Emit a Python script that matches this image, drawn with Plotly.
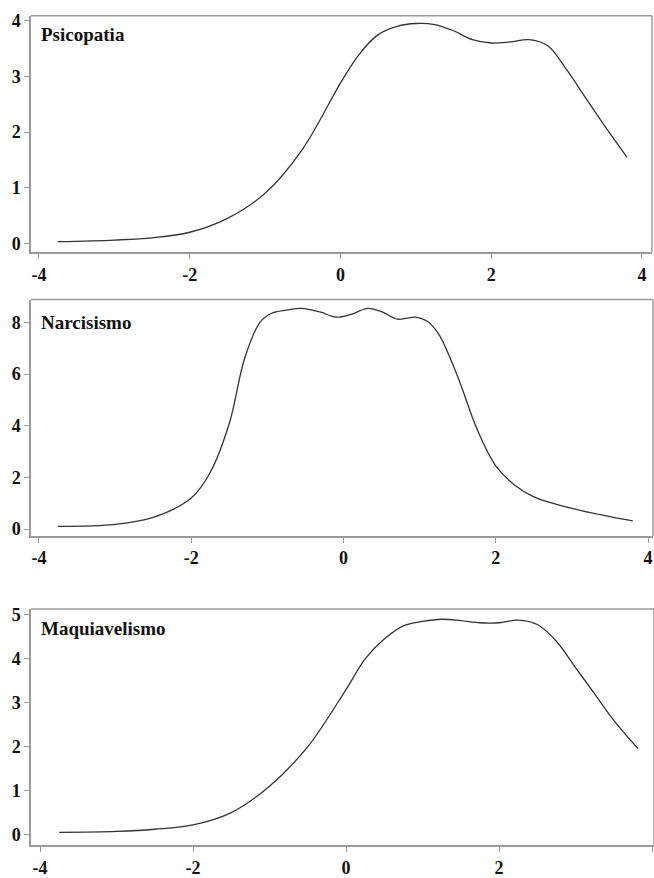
import plotly.graph_objects as go

# ---- data ----
titles = ["Psicopatia", "Narcisismo", "Maquiavelismo"]

x_psi = [-3.75, -3.0, -2.5, -2.0, -1.5, -1.0, -0.5, 0.0, 0.25, 0.5, 0.75, 1.0, 1.25, 1.5, 1.75, 2.0, 2.25, 2.5, 2.75, 3.0, 3.25, 3.5, 3.8]
y_psi = [0.03, 0.06, 0.10, 0.20, 0.45, 0.90, 1.70, 2.88, 3.40, 3.75, 3.90, 3.95, 3.93, 3.82, 3.66, 3.60, 3.62, 3.66, 3.55, 3.12, 2.62, 2.12, 1.55]

x_nar = [-3.75, -3.0, -2.5, -2.0, -1.75, -1.5, -1.3, -1.1, -0.95, -0.75, -0.55, -0.3, -0.1, 0.1, 0.32, 0.5, 0.71, 0.95, 1.1, 1.25, 1.5, 1.75, 2.0, 2.25, 2.5, 3.0, 3.5, 3.8]
y_nar = [0.10, 0.18, 0.45, 1.20, 2.20, 4.10, 6.60, 8.00, 8.35, 8.48, 8.55, 8.40, 8.21, 8.32, 8.55, 8.42, 8.13, 8.21, 8.05, 7.55, 5.90, 3.90, 2.45, 1.70, 1.25, 0.80, 0.48, 0.32]

x_maq = [-3.75, -3.0, -2.5, -2.0, -1.5, -1.0, -0.5, 0.0, 0.25, 0.5, 0.75, 1.0, 1.25, 1.5, 1.75, 2.0, 2.25, 2.5, 2.75, 3.0, 3.25, 3.5, 3.82]
y_maq = [0.05, 0.07, 0.12, 0.22, 0.50, 1.10, 2.00, 3.30, 4.00, 4.45, 4.75, 4.85, 4.90, 4.87, 4.82, 4.82, 4.88, 4.78, 4.40, 3.80, 3.20, 2.60, 1.95]

x_ticks = [-4, -2, 0, 2, 4]
y_ticks = [[0, 1, 2, 3, 4], [0, 2, 4, 6, 8], [0, 1, 2, 3, 4, 5]]

# ---- layout geometry (pixels) ----
W, H = 654, 878
panels = [
    dict(top=11, bot=251, xl=31, xr=652, xrange=[-4.106, 4.133], yrange=[-0.16, 4.088], ly=30),
    dict(top=299, bot=539, xl=31, xr=653, xrange=[-4.105, 4.065], yrange=[-0.27, 8.89], ly=322),
    dict(top=613, bot=853, xl=31, xr=654, xrange=[-4.118, 4.026], yrange=[-0.247, 5.135], ly=633),
]

series = [(x_psi, y_psi), (x_nar, y_nar), (x_maq, y_maq)]

fig = go.Figure()
font_fam = "Liberation Serif, Times New Roman, serif"
axis_col = "#9a9a9a"
shapes = []
annotations = []
for i, (p, (xs, ys)) in enumerate(zip(panels, series)):
    n = i + 1
    xa = "x" if n == 1 else f"x{n}"
    ya = "y" if n == 1 else f"y{n}"
    fig.add_trace(go.Scatter(x=xs, y=ys, mode="lines",
                             line=dict(color="#333333", width=1.3, shape="spline", smoothing=1.0),
                             xaxis=xa, yaxis=ya, showlegend=False, hoverinfo="skip"))
    xdom = [p["xl"] / W, p["xr"] / W]
    ydom = [1 - p["bot"] / H, 1 - p["top"] / H]
    xkey = "xaxis" if n == 1 else f"xaxis{n}"
    ykey = "yaxis" if n == 1 else f"yaxis{n}"
    tf = dict(family=font_fam, size=18, color="#111", weight="bold")
    fig.update_layout(**{
        xkey: dict(domain=xdom, range=p["xrange"], anchor=ya, tickvals=x_ticks,
                   ticktext=[str(t) for t in x_ticks], showgrid=False, zeroline=False,
                   showline=True, linecolor=axis_col, linewidth=1.5,
                   ticks="outside", ticklen=5, tickcolor=axis_col, tickfont=tf),
        ykey: dict(domain=ydom, range=p["yrange"], anchor=xa,
                   tickvals=y_ticks[i], showgrid=False, zeroline=False,
                   showline=True, linecolor=axis_col, linewidth=1.5,
                   ticks="outside", ticklen=5, tickcolor=axis_col, tickfont=tf),
    })
    shapes.append(dict(type="line", xref=f"{xa} domain", yref=f"{ya} domain",
                       x0=0, x1=1, y0=1, y1=1, line=dict(color=axis_col, width=1.5)))
    shapes.append(dict(type="line", xref=f"{xa} domain", yref=f"{ya} domain",
                       x0=1, x1=1, y0=0, y1=1, line=dict(color=axis_col, width=1.5)))
    annotations.append(dict(text=titles[i], xref=f"{xa} domain", yref=f"{ya} domain",
                            x=(39 - p["xl"]) / (p["xr"] - p["xl"]),
                            y=(p["bot"] - p["ly"]) / (p["bot"] - p["top"]),
                            xanchor="left", yanchor="middle", showarrow=False,
                            font=dict(family=font_fam, size=19, color="#111", weight="bold")))

fig.update_layout(width=W, height=H, margin=dict(l=0, r=0, t=0, b=0),
                  paper_bgcolor="white", plot_bgcolor="white",
                  shapes=shapes, annotations=annotations)

fig.write_html("out.html", config={"displayModeBar": False},
               post_script="document.body.style.margin='0';document.body.style.overflow='hidden';")
